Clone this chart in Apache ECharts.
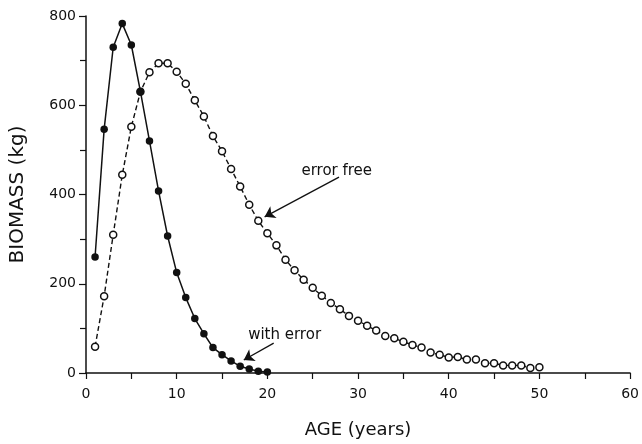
<!DOCTYPE html>
<html>
<head>
<meta charset="utf-8">
<script src="https://cdn.jsdelivr.net/npm/echarts@6/dist/echarts.min.js"></script>
<style>
html,body{margin:0;padding:0;background:#fff;}
#chart{width:642px;height:444px;}
</style>
</head>
<body>
<div id="chart"></div>
<script>
// Data
var ages = [1,2,3,4,5,6,7,8,9,10,11,12,13,14,15,16,17,18,19,20,21,22,23,24,25,26,27,28,29,30,31,32,33,34,35,36,37,38,39,40,41,42,43,44,45,46,47,48,49,50];
var errorFree = [59,172,310,444,552,630,674,694,694,675,648,611,575,531,497,457,418,377,341,313,286,254,230,209,191,173,157,143,128,117,106,95,83,78,70,63,57,46,41,35,36,30,30,22,22,17,17,17,11,13];
var withErrorAges = [1,2,3,4,5,6,7,8,9,10,11,12,13,14,15,16,17,18,19,20];
var withError = [260,546,730,783,735,631,520,408,307,225,169,122,88,57,41,27,15,9,4,2];
var xTicks = {min:0, max:60, interval:10};
var yTicks = {min:0, max:800, interval:200};
var notes = [
  {text:'error free', at:[27.65,452], from:[27.9,439], to:[19.7,350]},
  {text:'with error', at:[21.9,85], from:[20.7,67], to:[17.4,29]}
];

var ink = '#111';
var font = 'DejaVu Sans';
function pairs(xs, ys){ return xs.map(function(x,i){ return [x, ys[i]]; }); }

var chart = echarts.init(document.getElementById('chart'), null, {renderer:'canvas'});
chart.setOption({
  backgroundColor:'#fff',
  animation:false,
  grid:{left:84, right:9, top:16, bottom:69, containLabel:false},
  xAxis:{
    type:'value', min:xTicks.min, max:xTicks.max, interval:xTicks.interval,
    name:'AGE (years)', nameLocation:'middle', nameGap:48,
    nameTextStyle:{color:ink, fontFamily:font, fontSize:18},
    axisLine:{show:true, onZero:false, lineStyle:{color:ink, width:1.5}},
    axisTick:{show:true, inside:false, length:6, lineStyle:{color:ink, width:1.2}},
    minorTick:{show:true, splitNumber:2, length:6, lineStyle:{color:ink, width:1.2}},
    splitLine:{show:false},
    axisLabel:{color:ink, fontFamily:font, fontSize:14, margin:14}
  },
  yAxis:{
    type:'value', min:yTicks.min, max:yTicks.max, interval:yTicks.interval,
    name:'BIOMASS (kg)', nameLocation:'middle', nameGap:58,
    nameTextStyle:{color:ink, fontFamily:font, fontSize:20},
    axisLine:{show:true, onZero:false, lineStyle:{color:ink, width:1.5}},
    axisTick:{show:true, inside:false, length:7, lineStyle:{color:ink, width:1.2}},
    minorTick:{show:true, splitNumber:2, length:6, lineStyle:{color:ink, width:1.2}},
    splitLine:{show:false},
    axisLabel:{color:ink, fontFamily:font, fontSize:14, margin:10}
  },
  series:[
    {
      name:'error free', type:'line', data:pairs(ages, errorFree),
      symbol:'circle', symbolSize:7, showSymbol:true,
      lineStyle:{color:ink, width:1.4, type:[5,3]},
      itemStyle:{color:'#fff', borderColor:ink, borderWidth:1.5},
      z:2,
      markLine:{
        silent:true, symbol:['none','arrow'], symbolSize:10,
        lineStyle:{color:ink, width:1.3, type:'solid'},
        itemStyle:{color:ink},
        label:{show:false},
        data: notes.map(function(n){ return [{coord:n.from},{coord:n.to}]; })
      },
      markPoint:{
        silent:true, symbol:'circle', symbolSize:0,
        label:{show:true, position:'inside', color:ink, fontFamily:font, fontSize:15},
        data: notes.map(function(n){ return {coord:n.at, value:n.text, label:{formatter:n.text}}; })
      }
    },
    {
      name:'with error', type:'line', data:pairs(withErrorAges, withError),
      symbol:'circle', symbolSize:7.5, showSymbol:true,
      lineStyle:{color:ink, width:1.5},
      itemStyle:{color:ink, borderColor:ink, borderWidth:0},
      z:3
    }
  ]
});
</script>
</body>
</html>
